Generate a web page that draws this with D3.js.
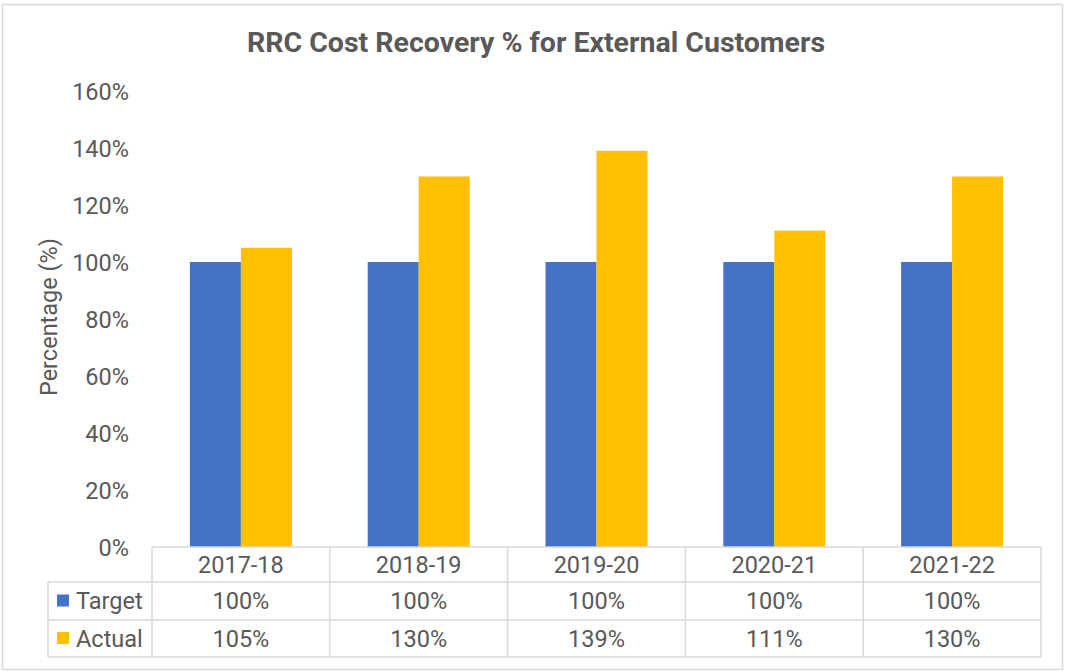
<!DOCTYPE html>
<html>
<head>
<meta charset="utf-8">
<script src="https://cdn.jsdelivr.net/npm/d3@7"></script>
<style>
  body { margin: 0; background: #fff; }
  svg text { font-family: Roboto, "Noto Sans", sans-serif; fill: #595959; }
</style>
</head>
<body>
<svg width="1066" height="671"></svg>
<script>
const years = ["2017-18", "2018-19", "2019-20", "2020-21", "2021-22"];
const seriesNames = ["Target", "Actual"];
const target = [100, 100, 100, 100, 100];
const actual = [105, 130, 139, 111, 130];
const yTicks = [0, 20, 40, 60, 80, 100, 120, 140, 160];
const colors = ["#4472c4", "#ffc000"];

const svg = d3.select('svg');

// chart border
svg.append('rect')
    .attr('x', 2.5).attr('y', 4.5)
    .attr('width', 1060).attr('height', 665)
    .attr('fill', '#fff')
    .attr('stroke', '#d9d9d9')
    .attr('stroke-width', 1.5);

const plotLeft = 152, plotRight = 1041;
const plotTop = 91, plotBottom = 547;

const xScale = d3.scaleBand().domain(years).range([plotLeft, plotRight]);
const xInner = d3.scaleBand().domain(seriesNames)
    .range([0, xScale.bandwidth()])
    .paddingInner(0).paddingOuter(0.743);
const yScale = d3.scaleLinear().domain([0, 160]).range([plotBottom, plotTop]);

// title
svg.append('text')
    .attr('x', 536)
    .attr('y', 52)
    .attr('text-anchor', 'middle')
    .style('font-size', '28.5px')
    .style('font-weight', 'bold')
    .text('RRC Cost Recovery % for External Customers');

// y axis
const yAxis = svg.append('g')
    .attr('transform', `translate(${plotLeft - 23},0)`)
    .call(d3.axisLeft(yScale).tickValues(yTicks).tickSize(0).tickPadding(0).tickFormat(d => d + '%'));
yAxis.select('.domain').remove();
yAxis.selectAll('text')
    .style('font-size', '23.5px')
    .attr('fill', null)
    .attr('dy', '0.35em');

svg.append('text')
    .attr('transform', `translate(57,317) rotate(-90)`)
    .attr('text-anchor', 'middle')
    .style('font-size', '23.5px')
    .text('Percentage (%)');

// bars
const rows = years.map((y, i) => ({ year: y, values: [target[i], actual[i]] }));
const groups = svg.selectAll('.group')
    .data(rows)
    .enter()
    .append('g')
    .attr('class', 'group')
    .attr('transform', d => `translate(${xScale(d.year)},0)`);

groups.selectAll('rect')
    .data(d => d.values.map((v, k) => ({ name: seriesNames[k], value: v, k: k })))
    .enter()
    .append('rect')
    .attr('x', d => xInner(d.name))
    .attr('width', xInner.bandwidth())
    .attr('y', d => yScale(d.value))
    .attr('height', d => plotBottom - yScale(d.value))
    .attr('fill', d => colors[d.k]);

// data table
const rowLines = [547, 582, 620, 657];
const legendLeft = 48;
const line = (x1, y1, x2, y2) => svg.append('line')
    .attr('x1', x1).attr('y1', y1).attr('x2', x2).attr('y2', y2)
    .attr('stroke', '#d9d9d9').attr('stroke-width', 1.5);

line(plotLeft, rowLines[0], plotRight, rowLines[0]);
line(legendLeft, rowLines[1], plotRight, rowLines[1]);
line(legendLeft, rowLines[2], plotRight, rowLines[2]);
line(legendLeft, rowLines[3], plotRight, rowLines[3]);
line(legendLeft, rowLines[1], legendLeft, rowLines[3]);
years.forEach(y => line(xScale(y), rowLines[0], xScale(y), rowLines[3]));
line(plotRight, rowLines[0], plotRight, rowLines[3]);

const cellFont = '23.5px';
svg.selectAll('.hdr')
    .data(years)
    .enter()
    .append('text')
    .attr('x', d => xScale(d) + xScale.bandwidth() / 2)
    .attr('y', (rowLines[0] + rowLines[1]) / 2)
    .attr('dy', '0.35em')
    .attr('text-anchor', 'middle')
    .style('font-size', cellFont)
    .text(d => d);

[target, actual].forEach((vals, k) => {
    const cy = (rowLines[k + 1] + rowLines[k + 2]) / 2;
    svg.append('rect')
        .attr('x', 57).attr('y', cy - 6.5)
        .attr('width', 12).attr('height', 12)
        .attr('fill', colors[k]);
    svg.append('text')
        .attr('x', 76)
        .attr('y', cy)
        .attr('dy', '0.35em')
        .style('font-size', cellFont)
        .text(seriesNames[k]);
    svg.selectAll('.v' + k)
        .data(vals)
        .enter()
        .append('text')
        .attr('x', (d, i) => xScale(years[i]) + xScale.bandwidth() / 2)
        .attr('y', cy)
        .attr('dy', '0.35em')
        .attr('text-anchor', 'middle')
        .style('font-size', cellFont)
        .text(d => d + '%');
});
</script>
</body>
</html>
